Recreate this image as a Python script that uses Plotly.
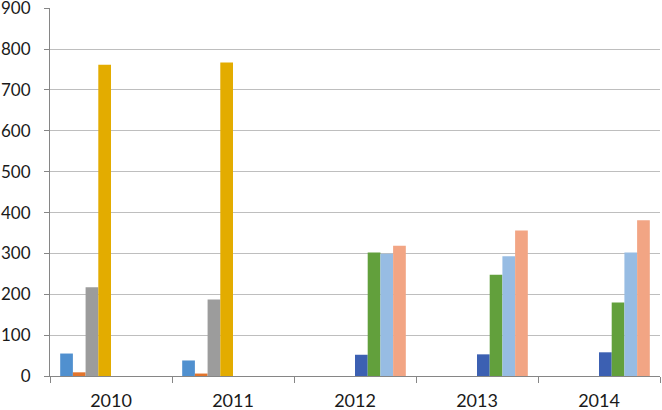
import plotly.graph_objects as go

categories = ["2010", "2011", "2012", "2013", "2014"]

series_a = [55, 38, None, None, None]
series_b = [9, 6, None, None, None]
series_c = [217, 187, None, None, None]
series_d = [762, 767, None, None, None]
series_e = [None, None, 52, 53, 58]
series_f = [None, None, 302, 248, 180]
series_g = [None, None, 299, 293, 302]
series_h = [None, None, 319, 356, 381]

y_ticks = [0, 100, 200, 300, 400, 500, 600, 700, 800, 900]

series = [series_a, series_b, series_c, series_d, series_e, series_f, series_g, series_h]
names = ["A", "B", "C", "D", "E", "F", "G", "H"]
colors = ["#5090CF", "#E2742C", "#9C9C9C", "#E3AC00",
          "#3C60B2", "#62A03C", "#97BCE3", "#F2A584"]

fig = go.Figure()
for name, vals, col in zip(names, series, colors):
    fig.add_trace(go.Bar(x=categories, y=vals, name=name, marker_color=col,
                         marker_line_width=0))

fig.update_layout(
    width=662, height=410,
    barmode="group", bargap=0.167, bargroupgap=0,
    showlegend=False,
    plot_bgcolor="white", paper_bgcolor="white",
    margin=dict(l=50, r=2, t=8, b=34),
    font=dict(family="Lato, Open Sans, sans-serif", size=18, color="#1a1a1a"),
)
fig.update_xaxes(
    type="category", tickson="boundaries", ticks="outside", ticklen=6,
    tickcolor="#868686", showline=True, linecolor="#868686", linewidth=1,
    showgrid=False, tickfont=dict(size=18), automargin=False,
    ticklabelstandoff=8, ticklabeloverflow="allow",
)
fig.update_yaxes(
    range=[0, 900.6], tickvals=y_ticks, ticktext=[str(v) for v in y_ticks],
    ticks="outside", ticklen=5, tickcolor="#868686",
    showline=True, linecolor="#868686", linewidth=1,
    showgrid=True, gridcolor="#BEBEBE", gridwidth=1, zeroline=False,
    ticklabelstandoff=10, tickfont=dict(size=17), automargin=False,
    ticklabeloverflow="allow",
)

fig.write_html("out.html", config={"displayModeBar": False},
               post_script="document.body.style.margin='0';document.body.style.overflow='hidden';")
